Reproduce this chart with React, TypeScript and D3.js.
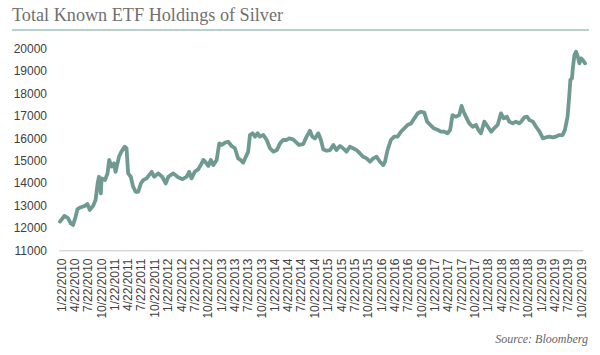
import React from "react";
import * as d3 from "d3";

const dates: string[] = [
  "2010-01-10","2010-02-09","2010-03-06","2010-03-25","2010-04-10","2010-04-26","2010-05-10","2010-06-02","2010-06-29","2010-07-17",
  "2010-08-03","2010-08-25","2010-09-11","2010-09-25","2010-10-04","2010-10-17","2010-10-22","2010-11-14","2010-12-02","2010-12-13",
  "2010-12-29","2011-01-15","2011-01-26","2011-02-18","2011-03-07","2011-03-29","2011-04-11","2011-04-22","2011-05-10","2011-05-26",
  "2011-06-12","2011-06-30","2011-07-18","2011-08-03","2011-08-26","2011-09-30","2011-10-17","2011-11-14","2011-12-11","2012-01-04",
  "2012-01-22","2012-02-25","2012-03-29","2012-04-29","2012-05-26","2012-06-13","2012-06-29","2012-07-21","2012-08-14","2012-09-07",
  "2012-09-18","2012-10-06","2012-10-22","2012-11-08","2012-11-25","2012-12-18","2013-01-05","2013-01-22","2013-02-14","2013-03-07",
  "2013-03-30","2013-04-22","2013-05-14","2013-05-30","2013-06-18","2013-07-06","2013-07-22","2013-08-03","2013-08-21","2013-09-07",
  "2013-09-25","2013-10-10","2013-11-03","2013-11-26","2013-12-18","2014-01-10","2014-02-03","2014-02-25","2014-03-18","2014-04-11",
  "2014-04-28","2014-05-25","2014-06-18","2014-07-04","2014-08-03","2014-08-26","2014-09-18","2014-10-04","2014-10-22","2014-11-14",
  "2014-12-02","2014-12-18","2015-01-11","2015-02-03","2015-02-25","2015-03-18","2015-04-11","2015-05-03","2015-05-26","2015-06-18",
  "2015-07-10","2015-08-03","2015-08-25","2015-09-17","2015-10-11","2015-11-03","2015-11-25","2015-12-18","2016-01-10","2016-02-02",
  "2016-02-14","2016-03-02","2016-03-25","2016-04-17","2016-05-10","2016-06-02","2016-06-25","2016-07-17","2016-08-10","2016-09-02",
  "2016-09-25","2016-10-17","2016-11-09","2016-11-28","2016-12-20","2017-01-13","2017-02-10","2017-03-02","2017-03-25","2017-04-17",
  "2017-05-05","2017-05-21","2017-06-13","2017-07-06","2017-07-22","2017-08-05","2017-08-21","2017-09-13","2017-10-06","2017-10-29",
  "2017-11-14","2017-12-02","2017-12-25","2018-01-18","2018-02-10","2018-03-02","2018-03-26","2018-04-18","2018-05-06","2018-05-28",
  "2018-06-14","2018-07-07","2018-07-29","2018-08-21","2018-09-03","2018-09-25","2018-10-14","2018-10-29","2018-11-22","2018-12-14",
  "2019-01-07","2019-01-30","2019-02-21","2019-03-14","2019-04-07","2019-04-29","2019-05-22","2019-06-14","2019-06-30","2019-07-18",
  "2019-07-29","2019-08-06","2019-08-17","2019-08-24","2019-09-03","2019-09-14","2019-09-26","2019-10-07","2019-10-18","2019-10-29",
  "2019-11-15"
];

const holdings: number[] = [
  12300,12550,12450,12220,12150,12490,12850,12940,13000,13080,
  12820,13000,13260,14000,14300,13560,14230,14150,14450,15050,
  14750,14900,14520,15190,15420,15640,15570,14450,14300,13860,
  13630,13630,14000,14150,14230,14520,14300,14450,14300,14000,
  14300,14450,14280,14190,14300,14520,14230,14520,14630,14900,
  15050,14930,14780,15050,14820,15050,15790,15720,15820,15860,
  15670,15570,15120,15050,14930,15190,15420,16160,16240,16090,
  16240,16090,16160,15940,15570,15420,15490,15790,15940,15940,
  16010,15970,15820,15720,15760,16090,16350,16090,16010,16240,
  15940,15520,15460,15490,15720,15490,15670,15570,15420,15640,
  15570,15490,15350,15190,15120,14970,15120,15190,14970,14820,
  14970,15490,15940,16090,16090,16310,16460,16610,16680,16910,
  17130,17200,17160,16760,16610,16460,16390,16310,16310,16240,
  16390,17050,16980,17050,17460,17200,16980,16680,16530,16610,
  16390,16240,16760,16530,16310,16460,16610,17130,16910,16980,
  16760,16680,16760,16680,16760,16950,16980,16830,16760,16530,
  16310,16010,16060,16090,16060,16090,16160,16160,16390,16980,
  17870,18620,18690,19210,19730,19880,19660,19360,19580,19510,
  19360
];

const xTickLabels: string[] = [
  "1/22/2010","4/22/2010","7/22/2010","10/22/2010",
  "1/22/2011","4/22/2011","7/22/2011","10/22/2011",
  "1/22/2012","4/22/2012","7/22/2012","10/22/2012",
  "1/22/2013","4/22/2013","7/22/2013","10/22/2013",
  "1/22/2014","4/22/2014","7/22/2014","10/22/2014",
  "1/22/2015","4/22/2015","7/22/2015","10/22/2015",
  "1/22/2016","4/22/2016","7/22/2016","10/22/2016",
  "1/22/2017","4/22/2017","7/22/2017","10/22/2017",
  "1/22/2018","4/22/2018","7/22/2018","10/22/2018",
  "1/22/2019","4/22/2019","7/22/2019","10/22/2019"
];

const yTicks: number[] = [11000,12000,13000,14000,15000,16000,17000,18000,19000,20000];

const title = "Total Known ETF Holdings of Silver";
const source = "Source: Bloomberg";

const parseIso = d3.timeParse("%Y-%m-%d");
const parseTick = d3.timeParse("%m/%d/%Y");

export default function App() {
  const W = 600, H = 355;
  const tickDates = xTickLabels.map((s) => parseTick(s) as Date);
  const x = d3.scaleTime()
    .domain([tickDates[0], tickDates[tickDates.length - 1]])
    .range([61.7, 581.6]);
  const y = d3.scaleLinear().domain([11000, 20000]).range([250.7, 49]);

  const data = dates.map((d, i) => ({ date: parseIso(d) as Date, v: holdings[i] }));
  const line = d3.line<{ date: Date; v: number }>()
    .x((d) => x(d.date))
    .y((d) => y(d.v));

  const sans = "'Liberation Sans', Arial, sans-serif";
  const serif = "'Liberation Serif', 'Times New Roman', serif";

  return (
    <svg width={W} height={H} style={{ position: "fixed", left: 0, top: 0, background: "#fff" }}>
      <rect width={W} height={H} fill="#fff" />
      <text x={12} y={20.5} fontFamily={serif} fontSize={18.2} fill="#707070">{title}</text>
      <line x1={12} x2={589} y1={30} y2={30} stroke="#9fc2bd" strokeWidth={1.3} />

      {yTicks.map((t) => (
        <text key={t} x={47} y={y(t)} textAnchor="end" dominantBaseline="central"
          fontFamily={sans} fontSize={12} fill="#404040">{t}</text>
      ))}

      <line x1={59} x2={583} y1={y(11000)} y2={y(11000)} stroke="#d9d9d9" strokeWidth={1.5} />

      {xTickLabels.map((s, i) => (
        <text key={s} transform={`translate(${x(tickDates[i])},258.5) rotate(-90)`}
          textAnchor="end" dominantBaseline="central"
          fontFamily={sans} fontSize={12} fill="#404040">{s}</text>
      ))}

      <path d={line(data) || ""} fill="none" stroke="#6f9a91" strokeWidth={3.8}
        strokeLinejoin="round" strokeLinecap="round" />

      <text x={588} y={343} textAnchor="end" fontFamily={serif} fontStyle="italic"
        fontSize={12} fill="#666">{source}</text>
    </svg>
  );
}
